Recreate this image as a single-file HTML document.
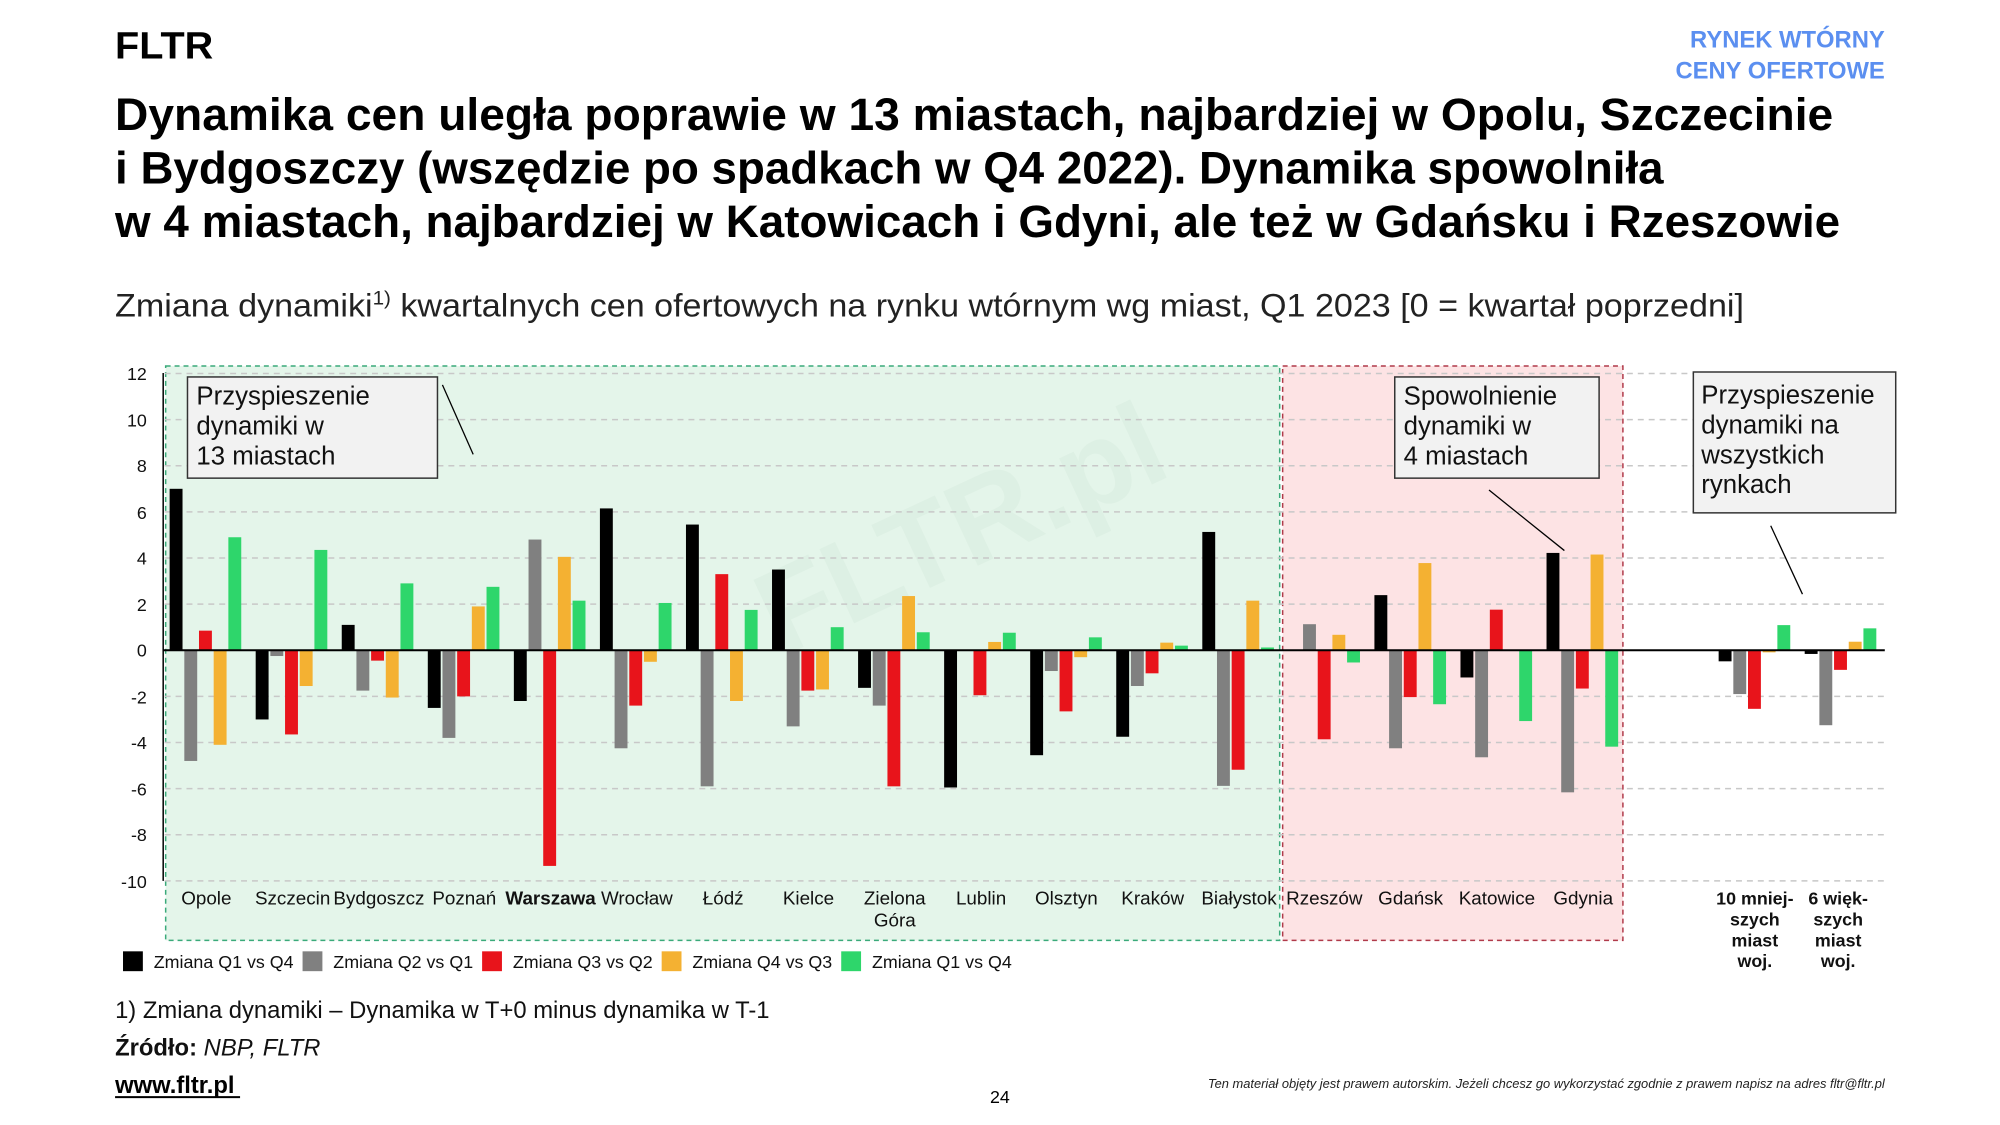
<!DOCTYPE html>
<html><head><meta charset="utf-8"><style>
html,body{margin:0;padding:0;background:#fff;}
svg{display:block;font-family:"Liberation Sans",sans-serif;}
</style></head><body>
<svg id="s" width="2000" height="1125" viewBox="0 0 2000 1125" xmlns="http://www.w3.org/2000/svg">
<rect width="2000" height="1125" fill="#fff"/>
<g transform="scale(0.992)">
<text x="116" y="59" font-size="38" font-weight="bold" textLength="99" lengthAdjust="spacingAndGlyphs">FLTR</text>
<text x="1900" y="48" font-size="24" font-weight="bold" fill="#5b8ff0" text-anchor="end">RYNEK WTÓRNY</text>
<text x="1900" y="79" font-size="24" font-weight="bold" fill="#5b8ff0" text-anchor="end">CENY OFERTOWE</text>
<g font-size="46" font-weight="bold">
<text x="116" y="131" textLength="1732" lengthAdjust="spacingAndGlyphs">Dynamika cen uległa poprawie w 13 miastach, najbardziej w Opolu, Szczecinie</text>
<text x="116" y="185" textLength="1561" lengthAdjust="spacingAndGlyphs">i Bydgoszczy (wszędzie po spadkach w Q4 2022). Dynamika spowolniła</text>
<text x="116" y="239" textLength="1739" lengthAdjust="spacingAndGlyphs">w 4 miastach, najbardziej w Katowicach i Gdyni, ale też w Gdańsku i Rzeszowie</text>
</g>
<text x="116" y="319" font-size="33" fill="#222" textLength="1642" lengthAdjust="spacingAndGlyphs">Zmiana dynamiki<tspan font-size="20" dy="-12">1)</tspan><tspan dy="12"> kwartalnych cen ofertowych na rynku wtórnym wg miast, Q1 2023 [0 = kwartał poprzedni]</tspan></text>

<rect x="167" y="369" width="1123" height="579" fill="#e4f5ea" stroke="#3aaa7a" stroke-width="1.5" stroke-dasharray="5,4"/>
<rect x="1293" y="369" width="343" height="579" fill="#fde3e4" stroke="#b03a4a" stroke-width="1.5" stroke-dasharray="5,4"/>
<text x="760" y="660" font-size="120" font-weight="bold" fill="#d8ecdf" opacity="0.5" transform="rotate(-25 780 600)">FLTR.pl</text>
<g id="grid"></g>
<g id="bars"></g>
<line x1="164.5" y1="376" x2="164.5" y2="888" stroke="#000" stroke-width="1.5"/>
<line x1="164.5" y1="655.5" x2="1900" y2="655.5" stroke="#000" stroke-width="2"/>
<g font-size="18" text-anchor="end" fill="#111">
<text x="148" y="383">12</text><text x="148" y="430">10</text><text x="148" y="476">8</text><text x="148" y="523">6</text><text x="148" y="569">4</text><text x="148" y="616">2</text><text x="148" y="662">0</text><text x="148" y="709">-2</text><text x="148" y="755">-4</text><text x="148" y="802">-6</text><text x="148" y="848">-8</text><text x="148" y="895">-10</text>
</g>
<g font-size="19" text-anchor="middle" fill="#111">
<text x="208" y="912">Opole</text>
<text x="295" y="912">Szczecin</text>
<text x="382" y="912">Bydgoszcz</text>
<text x="468" y="912">Poznań</text>
<text x="555" y="912" font-weight="bold">Warszawa</text>
<text x="642" y="912">Wrocław</text>
<text x="729" y="912">Łódź</text>
<text x="815" y="912">Kielce</text>
<text x="902" y="912">Zielona</text><text x="902" y="934">Góra</text>
<text x="989" y="912">Lublin</text>
<text x="1075" y="912">Olsztyn</text>
<text x="1162" y="912">Kraków</text>
<text x="1249" y="912">Białystok</text>
<text x="1335" y="912">Rzeszów</text>
<text x="1422" y="912">Gdańsk</text>
<text x="1509" y="912">Katowice</text>
<text x="1596" y="912">Gdynia</text>
<g font-weight="bold" font-size="18">
<text x="1769" y="912">10 mniej-</text><text x="1769" y="933">szych</text><text x="1769" y="954">miast</text><text x="1769" y="975">woj.</text>
<text x="1853" y="912">6 więk-</text><text x="1853" y="933">szych</text><text x="1853" y="954">miast</text><text x="1853" y="975">woj.</text>
</g>
</g>

<g font-size="26" fill="#111">
<rect x="189" y="380" width="252" height="102" fill="#f2f2f2" stroke="#333" stroke-width="1.5"/>
<text x="198" y="408">Przyspieszenie</text><text x="198" y="438">dynamiki w</text><text x="198" y="468">13 miastach</text>
<line x1="446" y1="388" x2="477" y2="458" stroke="#000" stroke-width="1.3"/>
<rect x="1406" y="380" width="206" height="102" fill="#f2f2f2" stroke="#333" stroke-width="1.5"/>
<text x="1415" y="408">Spowolnienie</text><text x="1415" y="438">dynamiki w</text><text x="1415" y="468">4 miastach</text>
<line x1="1501" y1="494" x2="1577" y2="555" stroke="#000" stroke-width="1.3"/>
<rect x="1707" y="375" width="204" height="142" fill="#f2f2f2" stroke="#333" stroke-width="1.5"/>
<text x="1715" y="407">Przyspieszenie</text><text x="1715" y="437">dynamiki na</text><text x="1715" y="467">wszystkich</text><text x="1715" y="497">rynkach</text>
<line x1="1785" y1="530" x2="1817" y2="599" stroke="#000" stroke-width="1.3"/>
</g>

<g font-size="18" fill="#111">
<rect x="124" y="959" width="20" height="20" fill="#000"/><text x="155" y="976">Zmiana Q1 vs Q4</text>
<rect x="305" y="959" width="20" height="20" fill="#808080"/><text x="336" y="976">Zmiana Q2 vs Q1</text>
<rect x="486" y="959" width="20" height="20" fill="#e8141b"/><text x="517" y="976">Zmiana Q3 vs Q2</text>
<rect x="667" y="959" width="20" height="20" fill="#f4b132"/><text x="698" y="976">Zmiana Q4 vs Q3</text>
<rect x="848" y="959" width="20" height="20" fill="#2ed66b"/><text x="879" y="976">Zmiana Q1 vs Q4</text>
</g>
<text x="116" y="1026" font-size="24" fill="#111">1) Zmiana dynamiki – Dynamika w T+0 minus dynamika w T-1</text>
<text x="116" y="1064" font-size="24" fill="#111"><tspan font-weight="bold">Źródło:</tspan> <tspan font-style="italic">NBP, FLTR</tspan></text>
<text x="116" y="1102" font-size="24" font-weight="bold">www.fltr.pl</text>
<line x1="116" y1="1106" x2="242" y2="1106" stroke="#000" stroke-width="2"/>
<text x="1008" y="1112" font-size="18" text-anchor="middle">24</text>
<text x="1900" y="1097" font-size="13" font-style="italic" text-anchor="end" fill="#222">Ten materiał objęty jest prawem autorskim. Jeżeli chcesz go wykorzystać zgodnie z prawem napisz na adres fltr@fltr.pl</text>
</g>
</svg>
<script>
var NS="http://www.w3.org/2000/svg";
function el(p,t,a){var e=document.createElementNS(NS,t);for(var k in a)e.setAttribute(k,a[k]);p.appendChild(e);return e;}
var g=document.getElementById("grid"),b=document.getElementById("bars");
var Z=655.5,U=23.25;
for(var v=-10;v<=12;v+=2){if(v==0)continue;el(g,"line",{x1:166,x2:1900,y1:Z-v*U,y2:Z-v*U,stroke:"#c8c8c8","stroke-width":1.5,"stroke-dasharray":"6,5"});}
var D=[[7.0,-4.8,0.85,-4.1,4.9],[-3.0,-0.25,-3.65,-1.55,4.35],[1.1,-1.75,-0.45,-2.05,2.9],[-2.5,-3.8,-2.0,1.9,2.75],[-2.2,4.8,-9.35,4.05,2.15],[6.15,-4.25,-2.4,-0.5,2.05],[5.45,-5.9,3.3,-2.2,1.75],[3.5,-3.3,-1.75,-1.7,1.0],[-1.63,-2.4,-5.9,2.35,0.78],[-5.95,0,-1.95,0.36,0.76],[-4.55,-0.9,-2.65,-0.3,0.56],[-3.75,-1.55,-1.0,0.33,0.2],[5.13,-5.88,-5.18,2.15,0.12],[0,1.13,-3.86,0.67,-0.53],[2.39,-4.25,-2.03,3.78,-2.34],[-1.18,-4.64,1.76,0,-3.07],[4.22,-6.16,-1.66,4.15,-4.18],null,[-0.48,-1.9,-2.54,-0.09,1.09],[-0.16,-3.25,-0.85,0.37,0.95]];
var C=["#000","#808080","#e8141b","#f4b132","#2ed66b"];
for(var i=0;i<D.length;i++){if(!D[i])continue;var c=208+i*86.75;
for(var j=0;j<5;j++){var v=D[i][j];if(v==0)continue;var x=c-37+j*14.8;var y1=Z,y2=Z-v*U;
el(b,"rect",{x:x,y:Math.min(y1,y2),width:13,height:Math.abs(y2-y1),fill:C[j]});}}
</script>
</body></html>
